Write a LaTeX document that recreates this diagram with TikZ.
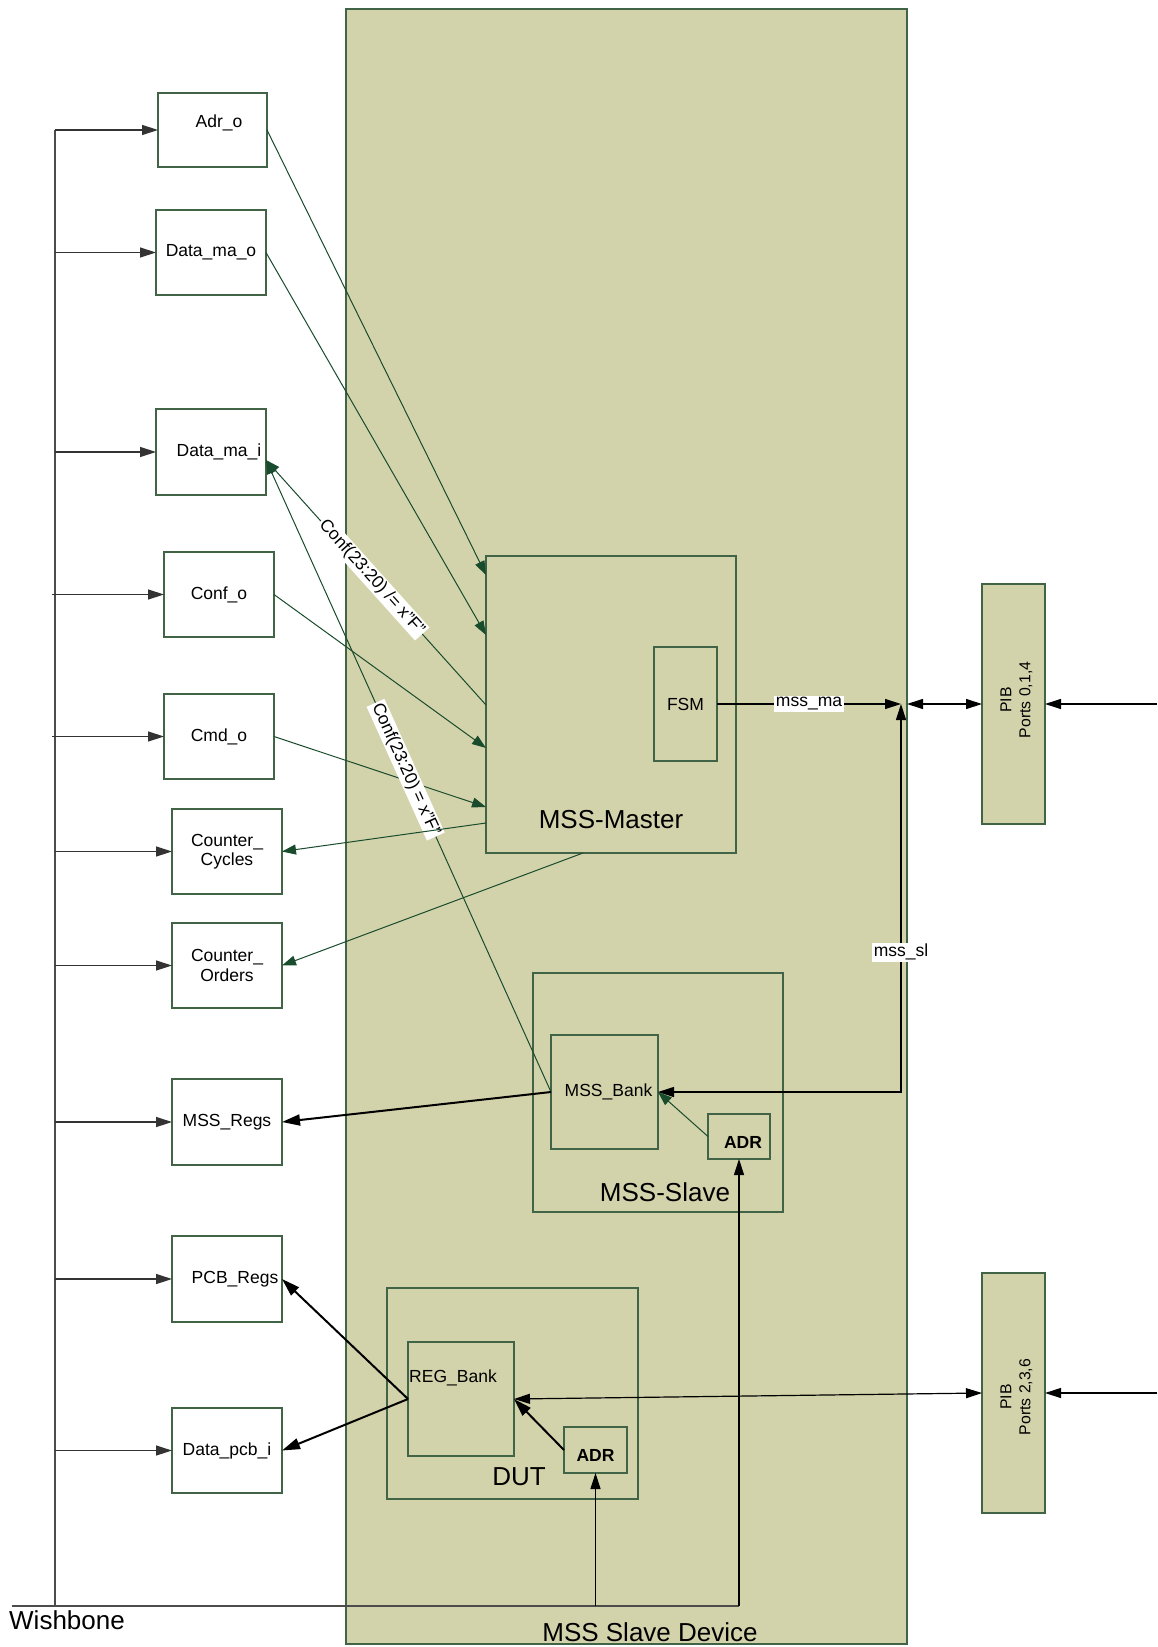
\documentclass[tikz,border=0pt]{standalone}
\usepackage{fontspec}
\setmainfont{Liberation Sans}
\usetikzlibrary{arrows.meta,calc}
\definecolor{olivefill}{RGB}{211,211,171}
\definecolor{bordergreen}{RGB}{65,100,70}
\definecolor{arrowgreen}{RGB}{25,75,45}
\newcommand{\bx}[7]{\node[#1, minimum width={(#5-#3)*0.5pt}, minimum height={(#6-#4)*0.5pt}] (#2) at (#3,#4) {#7};}
\begin{document}
\begin{tikzpicture}[x=0.5pt,y=-0.5pt,
  every node/.style={inner sep=0pt, outer sep=0pt},
  sm/.style={font=\fontsize{8.75}{9.75}\selectfont},
  bigt/.style={font=\fontsize{13}{15}\selectfont},
  pibt/.style={font=\fontsize{7.9}{9.5}\selectfont, align=center, rotate=90},
  lbox/.style={draw=bordergreen, fill=white, line width=0.6pt, anchor=north west, sm, align=center},
  ibox/.style={draw=bordergreen, fill=olivefill, line width=0.6pt, anchor=north west, sm, align=center},
  gline/.style={draw=arrowgreen, line width=0.5pt, -{Triangle[length=7pt,width=5pt]}},
  blk/.style={draw=black, line width=0.6pt, -{Triangle[length=8pt,width=5pt]}},
  bk/.style={draw=black, line width=1pt, -{Triangle[length=9pt,width=5.5pt]}},
  wb/.style={draw=black!70, line width=0.8pt},
  wbarrow/.style={draw=black!80, line width=0.7pt, -{Triangle[length=8pt,width=5pt]}},
  lab/.style={fill=white, inner sep=0.8pt, sm, text=black}
]
\useasboundingbox (0,0) rectangle (1157,1647);

% big device box
\bx{ibox, line width=0.8pt, label={[bigt,xshift=11.75pt,yshift=-402.75pt]center:MSS Slave Device}}{dev}{346}{9}{907}{1644}{}

% inner blocks
\bx{ibox, label={[bigt,yshift=-57.75pt]center:MSS-Master}}{master}{486}{556}{736}{853}{}
\bx{ibox}{fsm}{654}{647}{717}{761}{FSM}
\bx{ibox, label={[bigt,xshift=3.5pt,yshift=-49.75pt]center:MSS-Slave}}{slave}{533}{973}{783}{1212}{}
\bx{ibox, label={[sm,xshift=2pt]center:MSS\_Bank}}{bank}{551}{1035}{658}{1149}{}
\bx{ibox, label={[sm,xshift=2pt,yshift=-2.75pt]center:\textbf{ADR}}}{adrS}{708}{1114}{770}{1159}{}
\bx{ibox, label={[bigt,xshift=3.25pt,yshift=-41.75pt]center:DUT}}{dut}{387}{1288}{638}{1499}{}
\bx{ibox, label={[sm,xshift=-4pt,yshift=10.5pt]center:REG\_Bank}}{regb}{408}{1342}{514}{1456}{}
\bx{ibox, label={[sm,yshift=-2.5pt]center:\textbf{ADR}}}{adrD}{564}{1427}{627}{1473}{}

% PIB boxes (label is rotated: xshift moves up, yshift moves left)
\bx{ibox, label={[pibt,xshift=2pt,yshift=-1.5pt]center:PIB\\Ports 0,1,4}}{pib1}{982}{584}{1045}{824}{}
\bx{ibox, label={[pibt,xshift=-2pt,yshift=-1.5pt]center:PIB\\Ports 2,3,6}}{pib2}{982}{1273}{1045}{1513}{}

% left registers
\bx{lbox, label={[sm,xshift=3.25pt,yshift=3.5pt]center:Adr\_o}}{adr}{158}{93}{267}{167}{}
\bx{lbox}{dmo}{156}{210}{266}{295}{Data\_ma\_o}
\bx{lbox, label={[sm,xshift=4pt]center:Data\_ma\_i}}{dmi}{156}{409}{266}{495}{}
\bx{lbox}{confo}{164}{552}{274}{637}{Conf\_o}
\bx{lbox}{cmdo}{164}{694}{274}{779}{Cmd\_o}
\bx{lbox}{ccyc}{172}{809}{282}{894}{Counter\_\\Cycles}
\bx{lbox}{cord}{172}{923}{282}{1008}{Counter\_\\Orders}
\bx{lbox}{mregs}{172}{1079}{282}{1165}{MSS\_Regs}
\bx{lbox, label={[sm,xshift=4pt]center:PCB\_Regs}}{pcbr}{172}{1236}{282}{1322}{}
\bx{lbox}{dpcb}{172}{1408}{282}{1493}{Data\_pcb\_i}

% wishbone bus
\node[bigt] (wbt) at (67,1620) {Wishbone};
\coordinate (wtop) at (55,130);
\coordinate (wbot) at (55,1606);
\coordinate (wleft) at (12,1606);
\coordinate (wright) at (739,1606);
\draw[wb] (wtop) -- (wbot);
\draw[wb] (wleft) -- (wright);
\draw[wbarrow] (wtop) -- (adr.west);
\draw[wbarrow] (dmo.west -| wtop) -- (dmo.west);
\draw[wbarrow] (dmi.west -| wtop) -- (dmi.west);
\draw[wbarrow] ($(confo.west -| wtop)+(-3,0)$) -- (confo.west);
\draw[wbarrow] ($(cmdo.west -| wtop)+(-3,0)$) -- (cmdo.west);
\draw[wbarrow] (ccyc.west -| wtop) -- (ccyc.west);
\draw[wbarrow] (cord.west -| wtop) -- (cord.west);
\draw[wbarrow] (mregs.west -| wtop) -- (mregs.west);
\draw[wbarrow] (pcbr.west -| wtop) -- (pcbr.west);
\draw[wbarrow] (dpcb.west -| wtop) -- (dpcb.west);
\draw[blk] (adrD.south |- wright) -- (adrD.south);
\draw[blk] (wright) -- (adrS.south);

% green connectors
\draw[gline] (adr.east) -- ($(master.north west)+(0,19)$);
\draw[gline] (dmo.east) -- ($(master.north west)+(0,79)$);
\draw[gline] (confo.east) -- ($(master.north west)+(0,192)$);
\draw[gline] (cmdo.east) -- ($(master.north west)+(0,251)$);
\draw[gline] ($(master.north west)+(0,149)$) -- node[lab,sloped,pos=0.52]{Conf(23:20) /= x”F”} ($(dmi.east)+(0,8)$);
\draw[gline] (bank.west) -- node[lab,sloped,pos=0.51]{Conf(23:20) = x”F”} ($(dmi.east)+(0,8)$);
\draw[gline] ($(master.north west)+(0,267)$) -- (ccyc.east);
\draw[gline] ($(master.south west)+(97,0)$) -- (cord.east);
\draw[gline] (adrS.west) -- (bank.east);

% black connectors
\coordinate (J) at (901,704);
\coordinate (J2) at (907,704);
\coordinate (rin1) at (1157,704);
\coordinate (rin2) at (1157,1393);
\draw[blk] (fsm.east) -- node[lab]{mss\_ma} (J);
\draw[blk, {Triangle[length=8pt,width=5pt]}-{Triangle[length=8pt,width=5pt]}] (J) |- node[lab,pos=0.32]{mss\_sl} (bank.east);
\draw[blk, {Triangle[length=8pt,width=5pt]}-{Triangle[length=8pt,width=5pt]}] (J2) -- (pib1.west);
\draw[blk] (rin1) -- (pib1.east);
\draw[blk, {Triangle[length=8pt,width=5pt]}-{Triangle[length=8pt,width=5pt]}] (regb.east) -- (pib2.west);
\draw[blk] (rin2) -- (pib2.east);
\draw[bk] (bank.west) -- (mregs.east);
\draw[bk] (regb.west) -- (pcbr.east);
\draw[bk] (regb.west) -- (dpcb.east);
\draw[bk] (adrD.west) -- (regb.east);
\end{tikzpicture}
\end{document}
